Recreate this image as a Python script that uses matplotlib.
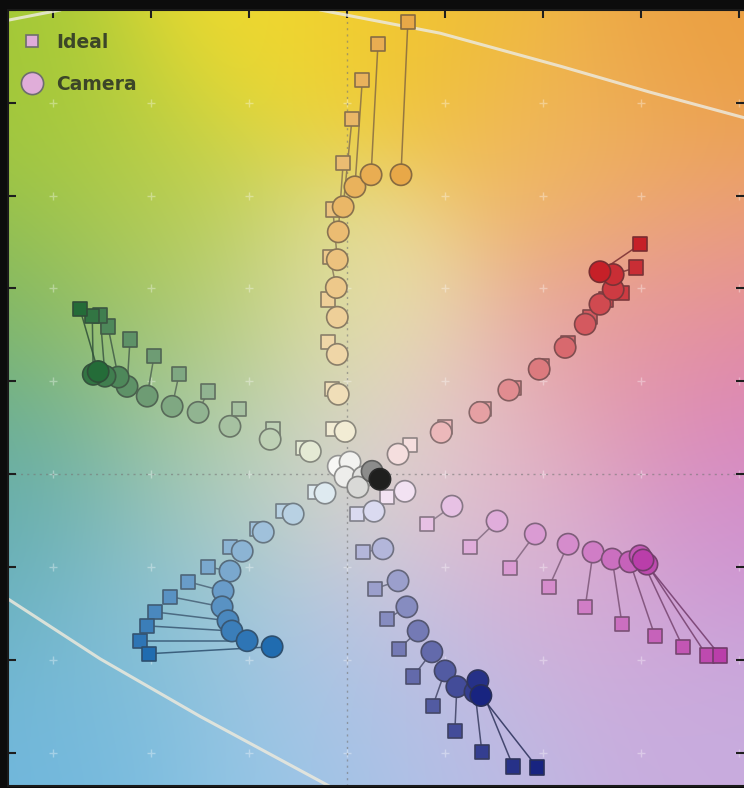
import numpy as np
import matplotlib
matplotlib.use("Agg")
import matplotlib.pyplot as plt
from matplotlib.lines import Line2D

# ---------------- data (a*, b* chromaticity) ----------------
yellow_ideal_a = [-2.9, -3.1, -3.9, -3.9, -3.5, -2.9, -0.8, 1.0, 3.1, 6.3, 12.4]
yellow_ideal_b = [9.7, 18.3, 28.4, 37.6, 46.7, 57.0, 67.1, 76.5, 84.9, 92.7, 97.4]
yellow_cam_a = [-0.4, -1.8, -2.0, -2.0, -2.2, -2.0, -1.8, -0.8, 1.6, 4.9, 11.0]
yellow_cam_b = [9.2, 17.2, 25.8, 33.8, 40.2, 46.2, 52.2, 57.6, 61.9, 64.5, 64.5]

red_ideal_a = [12.9, 20.0, 27.9, 34.1, 39.8, 45.1, 49.6, 52.8, 56.1, 59.0, 59.8]
red_ideal_b = [6.2, 10.1, 14.0, 18.5, 23.2, 28.2, 33.8, 37.6, 39.1, 44.5, 49.5]
red_cam_a = [10.4, 19.2, 27.1, 33.0, 39.2, 44.5, 48.6, 51.6, 54.3, 54.3, 51.6]
red_cam_b = [4.3, 9.0, 13.3, 18.1, 22.6, 27.3, 32.3, 36.6, 39.8, 43.0, 43.6]

magenta_ideal_a = [8.2, 16.3, 25.1, 33.3, 41.2, 48.6, 56.1, 62.8, 68.5, 73.4, 76.1]
magenta_ideal_b = [-4.9, -10.8, -15.7, -20.2, -24.3, -28.6, -32.3, -34.8, -37.2, -39.1, -39.1]
magenta_cam_a = [11.8, 21.4, 30.6, 38.4, 45.1, 50.2, 54.1, 57.7, 59.8, 61.2, 60.4]
magenta_cam_b = [-3.7, -6.9, -10.1, -12.9, -15.1, -16.8, -18.3, -18.9, -17.6, -19.4, -18.5]

blue_ideal_a = [2.0, 3.3, 5.7, 8.2, 10.6, 13.5, 17.5, 22.0, 27.5, 33.9, 38.8]
blue_ideal_b = [-8.6, -16.8, -24.7, -31.2, -37.6, -43.6, -49.9, -55.3, -59.8, -63.0, -63.2]
blue_cam_a = [5.5, 7.3, 10.4, 12.2, 14.5, 17.3, 20.0, 22.4, 26.1, 26.7, 27.3]
blue_cam_b = [-8.0, -16.1, -23.0, -28.6, -33.8, -38.3, -42.4, -45.8, -46.9, -44.5, -47.7]

cyan_ideal_a = [-6.5, -13.1, -18.4, -23.9, -28.4, -32.4, -36.1, -39.2, -40.8, -42.2, -40.4]
cyan_ideal_b = [-3.9, -8.0, -11.8, -15.7, -20.0, -23.2, -26.4, -29.7, -32.7, -35.9, -38.7]
cyan_cam_a = [-4.5, -11.0, -17.1, -21.4, -23.9, -25.3, -25.5, -24.3, -23.5, -20.4, -15.3]
cyan_cam_b = [-4.1, -8.6, -12.5, -16.6, -20.9, -25.2, -28.6, -31.6, -33.8, -35.9, -37.2]

green_ideal_a = [-9.0, -15.1, -22.0, -28.4, -34.3, -39.4, -44.3, -48.8, -50.4, -52.0, -54.5]
green_ideal_b = [5.6, 9.7, 14.0, 17.8, 21.5, 25.4, 29.0, 31.8, 34.2, 34.0, 35.5]
green_cam_a = [-7.5, -15.7, -23.9, -30.4, -35.7, -40.8, -44.9, -46.7, -49.4, -51.8, -50.8]
green_cam_b = [4.9, 7.5, 10.3, 13.3, 14.6, 16.8, 18.9, 20.9, 21.1, 21.5, 22.1]

neutral_ideal_a = [0, 0, 0, 0, 0, 0, 0]
neutral_ideal_b = [0, 0, 0, 0, 0, 0, 0]
neutral_cam_a = [-1.8, 0.6, -0.4, 3.3, 2.2, 5.1, 6.7]
neutral_cam_b = [1.7, 2.6, -0.6, -0.6, -2.8, 0.6, -1.1]
neutral_gray = [0.97, 0.95, 0.93, 0.88, 0.85, 0.55, 0.12]

legend_labels = ["Ideal", "Camera"]

# gamut boundary pieces
gamut_top_a = [-5.5, 19.0, 43.5, 61.8, 81.0]
gamut_top_b = [100.0, 95.0, 87.9, 82.3, 76.8]
gamut_topleft_a = [-69.2, -58.5]
gamut_topleft_b = [97.8, 100.0]
gamut_bottom_a = [-69.2, -50.4, -30.0, -3.5]
gamut_bottom_b = [-26.9, -39.8, -52.2, -67.3]

# ---------------- style ----------------
XLIM = (-69.2, 81.0)
YLIM = (-67.2, 100.0)

bg_anchor_ab = np.array([
    [-15.7, 95.7], [19, 95.7], [72, 89], [76, 48], [78, 20], [76, -10],
    [72, -59], [21, -59], [-10, -57], [-50, -48], [-67, -16], [-67, 5],
    [-67, 38], [-67, 81], [-40, 59], [0, 0], [31, 0], [0, -38], [-30, 0],
    [0, 38], [45, 70], [40, -30], [-35, -30], [-35, 30], [55, 25]])
bg_anchor_rgb = np.array([
    [242, 220, 45], [240, 190, 50], [235, 158, 62], [236, 160, 120], [220, 118, 188],
    [205, 150, 212], [200, 172, 222], [185, 188, 230], [140, 200, 232], [110, 182, 222],
    [100, 175, 192], [95, 168, 150], [125, 182, 90], [160, 200, 55], [190, 208, 70],
    [224, 220, 214], [228, 186, 202], [195, 196, 228], [170, 202, 182], [236, 226, 168],
    [240, 185, 100], [212, 172, 215], [150, 200, 215], [170, 200, 120], [232, 165, 160]]) / 255.0

arm_colors = {
    "yellow": ((242, 236, 212), (232, 168, 72)),
    "red": ((245, 222, 222), (198, 32, 40)),
    "magenta": ((242, 226, 242), (186, 62, 170)),
    "blue": ((218, 218, 240), (24, 36, 128)),
    "cyan": ((222, 234, 240), (32, 108, 176)),
    "green": ((228, 234, 212), (36, 108, 56)),
}

fig = plt.figure(figsize=(7.44, 7.88), dpi=100, facecolor="#0c0c0c")
ax = fig.add_axes([8 / 744, 2 / 788, 736 / 744, 776 / 788])
ax.set_xlim(*XLIM)
ax.set_ylim(*YLIM)

# background gradient
A, B = np.meshgrid(np.linspace(*XLIM, 300), np.linspace(*YLIM, 330))
sigma = 20.0
d2 = (A[..., None] - bg_anchor_ab[:, 0]) ** 2 + (B[..., None] - bg_anchor_ab[:, 1]) ** 2
w = np.exp(-d2 / (2 * sigma ** 2)) + 1e-12
img = (w[..., None] * bg_anchor_rgb).sum(axis=2) / w.sum(axis=2)[..., None]
ax.imshow(np.clip(img, 0, 1), extent=(*XLIM, *YLIM), origin="lower", aspect="auto",
          interpolation="bilinear", zorder=0)

# grid crosses and dotted axes
gx, gy = np.meshgrid(np.arange(-60, 81, 20), np.arange(-60, 101, 20))
ax.scatter(gx.ravel(), gy.ravel(), marker="+", s=30, color="white", alpha=0.35, lw=1, zorder=1)
ax.axhline(0, color="#777777", ls=(0, (1.5, 3)), lw=1, alpha=0.6, zorder=1)
ax.axvline(0, color="#777777", ls=(0, (1.5, 3)), lw=1, alpha=0.6, zorder=1)

# gamut boundary
for ga, gb in ((gamut_top_a, gamut_top_b), (gamut_topleft_a, gamut_topleft_b),
               (gamut_bottom_a, gamut_bottom_b)):
    ax.plot(ga, gb, color="#ece9dc", lw=2.2, alpha=0.85, zorder=2, solid_capstyle="round")

SQ = 105    # square marker area (pt^2)
CI = 235    # circle marker area (pt^2)


def draw_arm(ia, ib, ca, cb, inner, outer):
    n = len(ia)
    inner = np.array(inner) / 255.0
    outer = np.array(outer) / 255.0
    t = (np.arange(n) / (n - 1)) ** 0.7
    fills = inner[None, :] * (1 - t[:, None]) + outer[None, :] * t[:, None]
    edges = fills * 0.45 + 0.12
    for i in range(n):
        ax.plot([ia[i], ca[i]], [ib[i], cb[i]], color=edges[i], lw=1.1, alpha=0.85, zorder=3)
    ax.scatter(ia, ib, marker="s", s=SQ, c=fills, edgecolors=edges, linewidths=1.2, zorder=4)
    ax.scatter(ca, cb, marker="o", s=CI, c=fills, edgecolors=edges, linewidths=1.2, zorder=5)


draw_arm(yellow_ideal_a, yellow_ideal_b, yellow_cam_a, yellow_cam_b, *arm_colors["yellow"])
draw_arm(red_ideal_a, red_ideal_b, red_cam_a, red_cam_b, *arm_colors["red"])
draw_arm(magenta_ideal_a, magenta_ideal_b, magenta_cam_a, magenta_cam_b, *arm_colors["magenta"])
draw_arm(blue_ideal_a, blue_ideal_b, blue_cam_a, blue_cam_b, *arm_colors["blue"])
draw_arm(cyan_ideal_a, cyan_ideal_b, cyan_cam_a, cyan_cam_b, *arm_colors["cyan"])
draw_arm(green_ideal_a, green_ideal_b, green_cam_a, green_cam_b, *arm_colors["green"])

# neutral patches
ng = np.array(neutral_gray)
nfill = np.stack([ng, ng, ng * 0.99], axis=1)
nedge = nfill * 0.5 + 0.1
ax.scatter(neutral_ideal_a, neutral_ideal_b, marker="s", s=SQ, c=nfill, edgecolors=nedge,
           linewidths=1.2, zorder=4)
ax.scatter(neutral_cam_a, neutral_cam_b, marker="o", s=CI, c=nfill, edgecolors=nedge,
           linewidths=1.2, zorder=6)

# legend
pink = (0.88, 0.68, 0.85)
handles = [
    Line2D([], [], ls="none", marker="s", markersize=9, markerfacecolor=pink,
           markeredgecolor="#6e6e6e", markeredgewidth=1.2),
    Line2D([], [], ls="none", marker="o", markersize=16, markerfacecolor=pink,
           markeredgecolor="#6e6e6e", markeredgewidth=1.2),
]
leg = ax.legend(handles, legend_labels, loc="upper left", bbox_to_anchor=(-0.008, 0.995),
                frameon=False, handlelength=1.2, handletextpad=0.7, labelspacing=1.22,
                borderaxespad=0.6, prop={"weight": "bold", "size": 13.5})
for txt in leg.get_texts():
    txt.set_color("#3c4628")

# ticks
ax.set_xticks(np.arange(-60, 81, 20))
ax.set_yticks(np.arange(-60, 101, 20))
ax.tick_params(direction="in", length=6, width=1.5, colors="#1e1e1e",
               labelleft=False, labelbottom=False, top=True, right=True, bottom=False)
for s in ("left", "top", "bottom"):
    ax.spines[s].set_color("#1a1a1a")
    ax.spines[s].set_linewidth(1.5)
ax.spines["right"].set_visible(False)

fig.savefig("out.png", dpi=100, facecolor=fig.get_facecolor())
